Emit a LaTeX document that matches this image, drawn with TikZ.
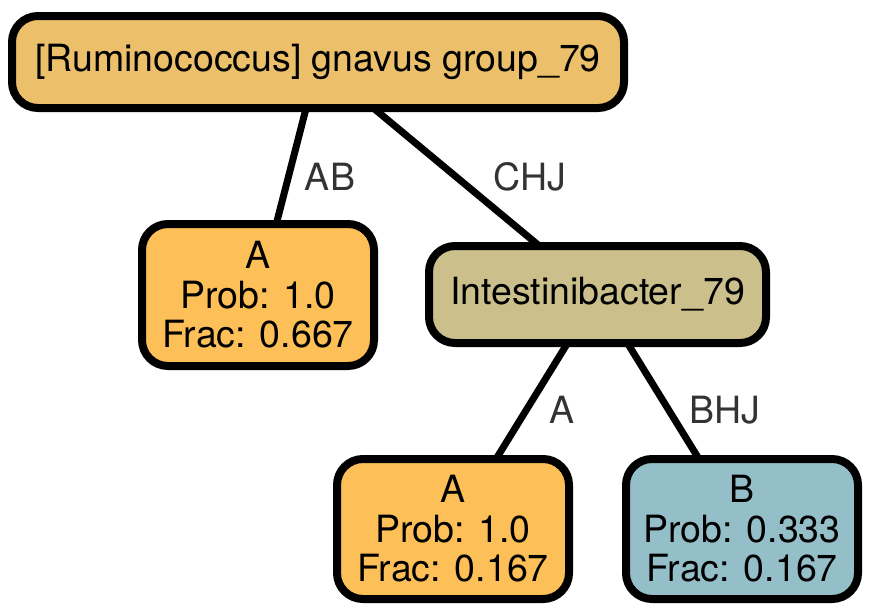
\documentclass[tikz,border=0pt]{standalone}
\usepackage{fontspec}
\setmainfont{TeX Gyre Heros}
\definecolor{rootc}{RGB}{236,192,106}
\definecolor{leafa}{RGB}{253,191,87}
\definecolor{intc}{RGB}{203,192,140}
\definecolor{leafb}{RGB}{149,191,200}
\definecolor{lab}{RGB}{51,51,51}
\begin{document}
\begin{tikzpicture}[x=1pt,y=-1pt,
  box/.style={draw=black,line width=8pt,rounded corners=26pt,inner sep=0pt,outer sep=0pt,align=center,font=\fontsize{37.5}{39.5}\selectfont},
  edge/.style={draw=black,line width=7pt},
  elabel/.style={text=lab,font=\fontsize{37.5}{39.5}\selectfont,inner sep=0pt}]
\useasboundingbox (0,0) rectangle (872,613);
\node[box,fill=rootc,minimum width=612pt,minimum height=92pt] (root) at (318,62) {[Ruminococcus] gnavus group\_79};
\node[box,fill=leafa,minimum width=232pt,minimum height=142pt] (a1) at (258,295) {A\\Prob: 1.0\\Frac: 0.667};
\node[box,fill=intc,minimum width=337pt,minimum height=97pt] (int) at (597.5,294.5) {Intestinibacter\_79};
\node[box,fill=leafa,minimum width=232pt,minimum height=140pt] (a2) at (453,529) {A\\Prob: 1.0\\Frac: 0.167};
\node[box,fill=leafb,minimum width=232pt,minimum height=140pt] (b) at (742,529) {B\\Prob: 0.333\\Frac: 0.167};
\draw[edge] (root) -- (a1);
\draw[edge] (root) -- (int);
\draw[edge] (int) -- (a2);
\draw[edge] (int) -- (b);
\node[elabel] (lab1) at (330,177) {AB};
\node[elabel] (lab2) at (530,177) {CHJ};
\node[elabel] (lab3) at (562,410) {A};
\node[elabel] (lab4) at (725,410) {BHJ};
\end{tikzpicture}
\end{document}
